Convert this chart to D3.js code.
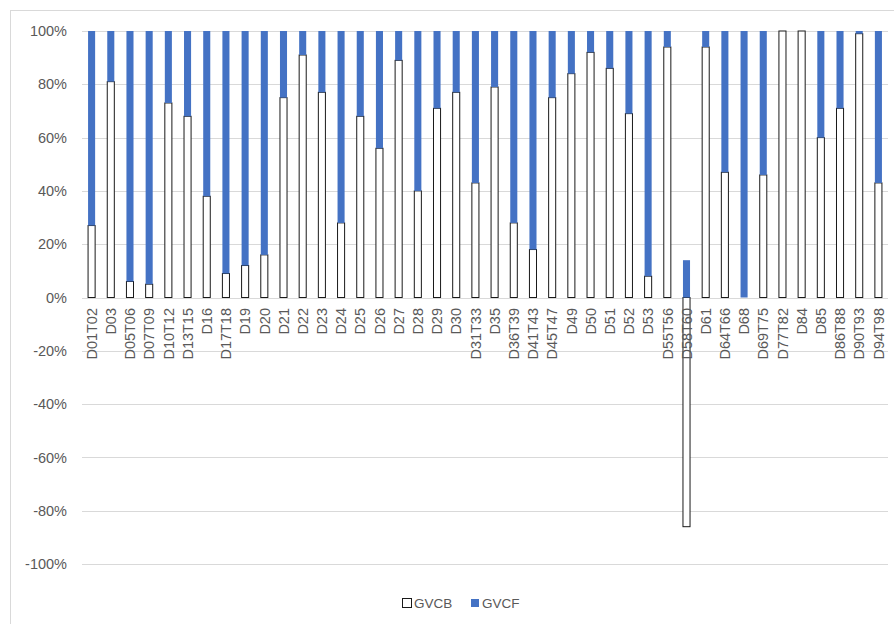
<!DOCTYPE html>
<html><head><meta charset="utf-8">
<script src="https://cdn.jsdelivr.net/npm/d3@7"></script>
<style>body{margin:0;background:#fff}svg{display:block}text{font-family:"Liberation Sans",Arial,sans-serif;fill:#595959}</style>
</head><body><svg id="c" width="894" height="624"></svg>
<script>
const categories = ["D01T02","D03","D05T06","D07T09","D10T12","D13T15","D16","D17T18","D19","D20","D21","D22","D23","D24","D25","D26","D27","D28","D29","D30","D31T33","D35","D36T39","D41T43","D45T47","D49","D50","D51","D52","D53","D55T56","D58T60","D61","D64T66","D68","D69T75","D77T82","D84","D85","D86T88","D90T93","D94T98"];
const GVCB = [27,81,6,5,73,68,38,9,12,16,75,91,77,28,68,56,89,40,71,77,43,79,28,18,75,84,92,86,69,8,94,-86,94,47,0,46,100,100,60,71,99,43];
const GVCF = [73,19,94,95,27,32,62,91,88,84,25,9,23,72,32,44,11,60,29,23,57,21,72,82,25,16,8,14,31,92,6,14,6,53,100,54,0,0,40,29,1,57];
const yTicks = [-1,-0.8,-0.6,-0.4,-0.2,0,0.2,0.4,0.6,0.8,1];
const seriesNames = ["GVCB","GVCF"];
const colors = {GVCB:"#ffffff", GVCF:"#4472c4"};

const svg = d3.select("#c");
svg.append("rect").attr("x",10.5).attr("y",10.5).attr("width",900).attr("height",700)
  .attr("fill","none").attr("stroke","#d9d9d9");

const x = d3.scaleBand().domain(categories).range([82,888]).paddingInner(0.58).paddingOuter(0.29);
const y = d3.scaleLinear().domain([-1,1]).range([564,31]);

svg.append("g").selectAll("line").data(yTicks).join("line")
  .attr("x1",82).attr("x2",888).attr("y1",d=>Math.round(y(d))+0.5).attr("y2",d=>Math.round(y(d))+0.5)
  .attr("stroke","#d9d9d9").attr("stroke-width",1);

const pct = d => (d < 0 ? "-" : "") + Math.round(Math.abs(d)*100) + "%";
const yAxis = d3.axisLeft(y).tickValues(yTicks).tickFormat(pct).tickSize(0).tickPadding(0);
const ga = svg.append("g").attr("transform","translate(67,0)").call(yAxis);
ga.select(".domain").remove();
ga.selectAll("text").style("font-size","14.5px").style("font-family","'Liberation Sans',Arial,sans-serif").attr("fill","#595959");

const rows = categories.map((c,i)=>({cat:c, GVCB:GVCB[i]/100, GVCF:GVCF[i]/100}));
const stack = d3.stack().keys(seriesNames).offset(d3.stackOffsetDiverging)(rows);

const g = svg.append("g");
stack.forEach(s=>{
  g.append("g").selectAll("rect").data(s.filter(d=>d[1]!==d[0])).join("rect")
    .attr("x",d=>x(d.data.cat)+0.5)
    .attr("width",x.bandwidth()-1)
    .attr("y",d=>y(Math.max(d[0],d[1])))
    .attr("height",d=>Math.abs(y(d[0])-y(d[1])))
    .attr("fill",colors[s.key])
    .attr("stroke",s.key==="GVCB"?"#1a1a1a":"none")
    .attr("stroke-width",1);
});

svg.append("g").selectAll("text").data(categories).join("text")
  .attr("transform",d=>`translate(${x(d)+x.bandwidth()/2},308) rotate(-90)`)
  .attr("dy","0.36em").attr("text-anchor","end").style("font-size","14.5px").text(d=>d);

const lg = svg.append("g");
lg.append("rect").attr("x",402.5).attr("y",598.5).attr("width",9).attr("height",9).attr("fill","#fff").attr("stroke","#1a1a1a");
lg.append("text").attr("x",414).attr("y",608).style("font-size","13.5px").text("GVCB");
lg.append("rect").attr("x",471).attr("y",599).attr("width",8).attr("height",8).attr("fill","#4472c4");
lg.append("text").attr("x",482).attr("y",608).style("font-size","13.5px").text("GVCF");
</script></body></html>
